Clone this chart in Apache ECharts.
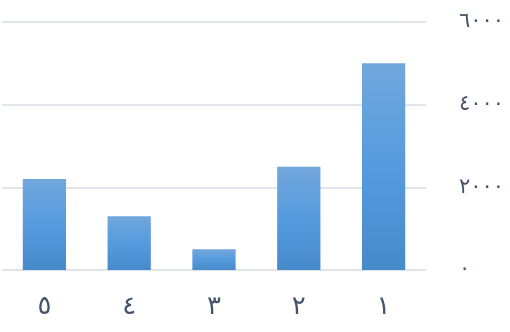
<!DOCTYPE html>
<html><head><meta charset="utf-8">
<script src="https://cdn.jsdelivr.net/npm/echarts@6/dist/echarts.min.js"></script>
<style>html,body{margin:0;padding:0;background:#fff}#c{width:510px;height:332px}</style>
</head><body><div id="c"></div>
<script>
const categories = ['١','٢','٣','٤','٥'];
const values = [5000, 2500, 500, 1300, 2200];
const yTickLabels = ['٠','٢٠٠٠','٤٠٠٠','٦٠٠٠'];

const chart = echarts.init(document.getElementById('c'));
chart.setOption({
  animation: false,
  grid: {left: 2, right: 84, top: 22, bottom: 62, containLabel: false, outerBoundsMode: 'none'},
  xAxis: {
    type: 'category', data: categories, inverse: true,
    axisLine: {show: false}, axisTick: {show: false},
    axisLabel: {fontSize: 26, color: '#44546a', margin: 24, fontFamily: 'DejaVu Sans'}
  },
  yAxis: {
    type: 'value', position: 'right', min: 0, max: 6000, interval: 2000,
    axisLine: {show: false}, axisTick: {show: false},
    splitLine: {lineStyle: {color: '#e1e4e9', width: 2}},
    axisLabel: {fontSize: 21, color: '#44546a', margin: 33, align: 'left', fontFamily: 'DejaVu Sans',
      formatter: v => yTickLabels[Math.round(v / 2000)]}
  },
  series: [{
    type: 'bar', data: values, barWidth: '51%',
    itemStyle: {color: new echarts.graphic.LinearGradient(0, 0, 0, 1, [
      {offset: 0, color: '#72a7dc'},
      {offset: 0.5, color: '#559bde'},
      {offset: 1, color: '#468aca'}
    ])}
  }]
});
</script></body></html>
